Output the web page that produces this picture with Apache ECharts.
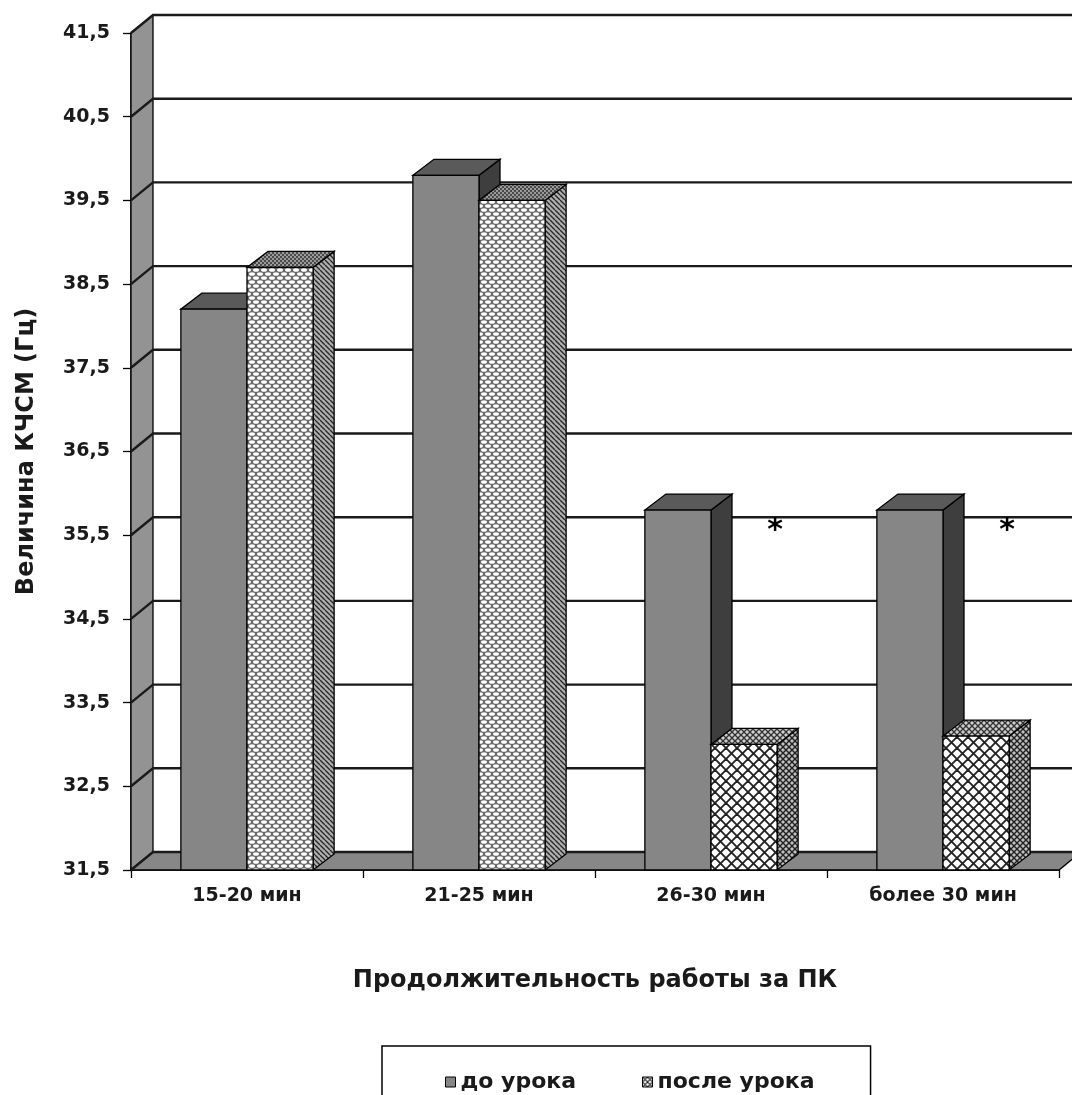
<!DOCTYPE html>
<html>
<head>
<meta charset="utf-8">
<script src="https://cdn.jsdelivr.net/npm/echarts@6/dist/echarts.min.js"></script>
<style>
  html, body { margin: 0; padding: 0; background: #ffffff; }
  #chart { width: 1072px; height: 1095px; }
</style>
</head>
<body>
<div id="chart"></div>
<script>
// Categories: duration of PC work
const categories = ['15-20 мин', '21-25 мин', '26-30 мин', 'более 30 мин'];
// CFF (КЧСМ) values, Hz
const beforeLesson = [38.2, 39.8, 35.8, 35.8];
const afterLesson = [38.7, 39.5, 33.0, 33.1];
// Significance marks shown next to the "after" bars
const significance = ['', '', '*', '*'];
// Value-axis ticks
const yTicks = [31.5, 32.5, 33.5, 34.5, 35.5, 36.5, 37.5, 38.5, 39.5, 40.5, 41.5];

const FONT = 'DejaVu Sans';
const WALL_DX = 22, WALL_DY = -18;   // depth offset of the back wall
const BAR_DX = 21, BAR_DY = -16;     // depth offset of each column
const BAR_FRAC = 0.285;              // column width as a share of the category band

// ---- fill patterns for the "after" columns ----
function makeCanvas(w, h, draw) {
  const c = document.createElement('canvas');
  c.width = w; c.height = h;
  draw(c.getContext('2d'), w, h);
  return { image: c, repeat: 'repeat' };
}
// staggered white ovals
const ovalFront = makeCanvas(8, 8, (g, w, h) => {
  g.fillStyle = '#6a6a6a'; g.fillRect(0, 0, w, h);
  g.fillStyle = '#ffffff';
  [[4, 2], [0, 6], [8, 6], [0, -2], [8, -2], [4, 10]].forEach(([x, y]) => {
    g.beginPath(); g.ellipse(x, y, 3.0, 1.8, 0, 0, Math.PI * 2); g.fill();
  });
});
const ovalTop = makeCanvas(4, 4, (g, w, h) => {
  g.fillStyle = '#9a9a9a'; g.fillRect(0, 0, w, h);
  g.fillStyle = '#4a4a4a'; g.fillRect(0, 0, 2, 2); g.fillRect(2, 2, 2, 2);
});
const hatchSide = makeCanvas(5, 5, (g, w, h) => {
  g.fillStyle = '#b0b0b0'; g.fillRect(0, 0, w, h);
  g.strokeStyle = '#2a2a2a'; g.lineWidth = 1.4;
  [-w, 0, w].forEach(o => { g.beginPath(); g.moveTo(o, 0); g.lineTo(o + w, h); g.stroke(); });
});
function crossHatch(size, bg, fg, lw) {
  return makeCanvas(size, size, (g, w, h) => {
    g.fillStyle = bg; g.fillRect(0, 0, w, h);
    g.strokeStyle = fg; g.lineWidth = lw;
    [-w, 0, w].forEach(o => {
      g.beginPath(); g.moveTo(o, 0); g.lineTo(o + w, h); g.stroke();
      g.beginPath(); g.moveTo(o, h); g.lineTo(o + w, 0); g.stroke();
    });
  });
}
const diamondFront = crossHatch(11, '#ffffff', '#222222', 1.9);
const diamondTop = crossHatch(6, '#cfcfcf', '#333333', 1.3);
const diamondSide = crossHatch(6, '#c0c0c0', '#222222', 1.4);
const legendAfter = crossHatch(5, '#ffffff', '#222222', 1.1);

// per-category fills of the "after" columns
const afterFaces = [
  { front: ovalFront, top: ovalTop, side: hatchSide },
  { front: ovalFront, top: ovalTop, side: hatchSide },
  { front: diamondFront, top: diamondTop, side: diamondSide },
  { front: diamondFront, top: diamondTop, side: diamondSide }
];
const beforeFaces = { front: '#868686', top: '#5a5a5a', side: '#3e3e3e' };

function box(x0, x1, yTop, yBase, faces) {
  const st = (fill) => ({ fill: fill, stroke: '#000', lineWidth: 1.3 });
  return [
    { type: 'polygon', shape: { points: [[x1, yTop], [x1 + BAR_DX, yTop + BAR_DY], [x1 + BAR_DX, yBase + BAR_DY], [x1, yBase]] }, style: st(faces.side) },
    { type: 'polygon', shape: { points: [[x0, yTop], [x1, yTop], [x1 + BAR_DX, yTop + BAR_DY], [x0 + BAR_DX, yTop + BAR_DY]] }, style: st(faces.top) },
    { type: 'polygon', shape: { points: [[x0, yTop], [x1, yTop], [x1, yBase], [x0, yBase]] }, style: st(faces.front) }
  ];
}

function columnRenderer(which) {
  return function (params, api) {
    const ci = api.value(0);
    const v = api.value(1);
    const top = api.coord([ci, v]);
    const base = api.coord([ci, yTicks[0]]);
    const w = api.size([1, 0])[0] * BAR_FRAC;
    const cx = top[0];
    const children = which === 'before'
      ? box(cx - w, cx, top[1], base[1], beforeFaces)
      : box(cx, cx + w, top[1], base[1], afterFaces[ci]);
    if (which === 'after' && significance[ci]) {
      const ref = api.coord([ci, beforeLesson[ci]]);
      children.push({
        type: 'text',
        style: {
          x: cx + w - 2, y: ref[1] + 21, text: significance[ci],
          fill: '#000', font: 'bold 30px "' + FONT + '"',
          align: 'center', verticalAlign: 'middle'
        }
      });
    }
    return { type: 'group', children: children };
  };
}

// back wall grid, left wall and floor
function wallRenderer(params, api) {
  const cs = params.coordSys;
  const x0 = cs.x, x1 = cs.x + cs.width;
  const y = api.coord([0, api.value(1)])[1];
  const children = [];
  if (params.dataIndex === 0) {
    const yTopV = api.coord([0, yTicks[yTicks.length - 1]])[1];
    children.push({
      type: 'polygon',
      shape: { points: [[x0, yTopV], [x0 + WALL_DX, yTopV + WALL_DY], [x0 + WALL_DX, y + WALL_DY], [x0, y]] },
      style: { fill: '#939393', stroke: '#000', lineWidth: 1.3 }
    });
    children.push({
      type: 'polygon',
      shape: { points: [[x0, y], [x1, y], [x1 + WALL_DX, y + WALL_DY], [x0 + WALL_DX, y + WALL_DY]] },
      style: { fill: '#878787', stroke: '#000', lineWidth: 1.3 }
    });
  }
  children.push({
    type: 'polyline',
    shape: { points: [[x0, y], [x0 + WALL_DX, y + WALL_DY], [x1 + WALL_DX + 40, y + WALL_DY]] },
    style: { stroke: '#1a1a1a', lineWidth: 2.4, fill: null }
  });
  return { type: 'group', children: children };
}

const chart = echarts.init(document.getElementById('chart'), null, { renderer: 'canvas' });
chart.setOption({
  animation: false,
  backgroundColor: '#ffffff',
  grid: { left: 131, right: 13, top: 33, bottom: 225, outerBoundsMode: 'none' },
  xAxis: {
    type: 'category',
    data: categories,
    boundaryGap: true,
    axisLine: { show: true, lineStyle: { color: '#000', width: 1.5 } },
    axisTick: { show: true, length: 8, lineStyle: { color: '#000', width: 1.3 } },
    axisLabel: { margin: 17, color: '#1a1a1a', fontFamily: FONT, fontWeight: 'bold', fontSize: 19 },
    name: 'Продолжительность работы за ПК',
    nameLocation: 'middle',
    nameGap: 99,
    nameTextStyle: { color: '#1a1a1a', fontFamily: FONT, fontWeight: 'bold', fontSize: 24, verticalAlign: 'top' },
    splitLine: { show: false }
  },
  yAxis: {
    type: 'value',
    min: yTicks[0],
    max: yTicks[yTicks.length - 1],
    interval: 1,
    axisLine: { show: true, lineStyle: { color: '#000', width: 1.5 } },
    axisTick: { show: true, length: 8, lineStyle: { color: '#000', width: 1.3 } },
    axisLabel: {
      margin: 21, color: '#1a1a1a', fontFamily: FONT, fontWeight: 'bold', fontSize: 19,
      formatter: v => v.toFixed(1).replace('.', ',')
    },
    splitLine: { show: false },
    name: 'Величина КЧСМ (Гц)',
    nameLocation: 'middle',
    nameGap: 92,
    nameTextStyle: { color: '#1a1a1a', fontFamily: FONT, fontWeight: 'bold', fontSize: 24 }
  },
  legend: {
    left: 382,
    top: 1046,
    padding: [25, 56, 40, 63],
    itemGap: 66,
    itemWidth: 10,
    itemHeight: 10,
    borderColor: '#000',
    borderWidth: 1.5,
    textStyle: { color: '#1a1a1a', fontFamily: FONT, fontWeight: 'bold', fontSize: 22 },
    data: [
      { name: 'до урока', icon: 'rect', itemStyle: { color: '#868686', borderColor: '#000', borderWidth: 1 } },
      { name: 'после урока', icon: 'rect', itemStyle: { color: legendAfter, borderColor: '#000', borderWidth: 1 } }
    ]
  },
  series: [
    {
      name: 'walls',
      type: 'custom',
      z: 1,
      silent: true,
      renderItem: wallRenderer,
      data: yTicks.map(t => [0, t])
    },
    {
      name: 'до урока',
      type: 'custom',
      z: 2,
      itemStyle: { color: '#868686', borderColor: '#000', borderWidth: 1 },
      renderItem: columnRenderer('before'),
      data: beforeLesson.map((v, i) => [i, v])
    },
    {
      name: 'после урока',
      type: 'custom',
      z: 3,
      itemStyle: { color: legendAfter, borderColor: '#000', borderWidth: 1 },
      renderItem: columnRenderer('after'),
      data: afterLesson.map((v, i) => [i, v])
    }
  ]
});
</script>
</body>
</html>
